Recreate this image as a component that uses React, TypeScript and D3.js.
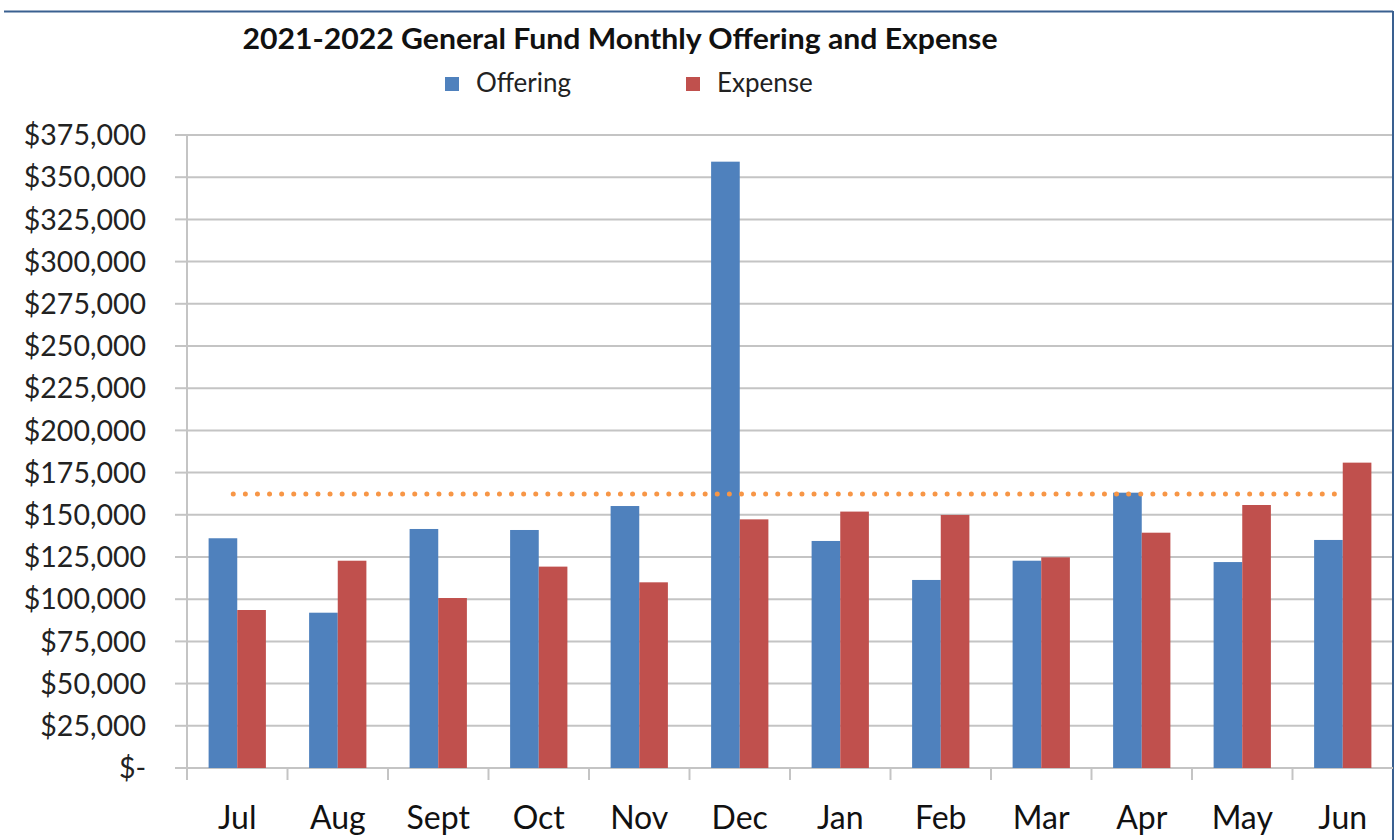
import * as d3 from "d3";
import { useEffect, useRef } from "react";

const months = ["Jul", "Aug", "Sept", "Oct", "Nov", "Dec", "Jan", "Feb", "Mar", "Apr", "May", "Jun"];
const offering = [136100, 92000, 141600, 141000, 155200, 359200, 134500, 111400, 122800, 163100, 122000, 135100];
const expense = [93600, 122800, 100700, 119300, 110000, 147300, 151900, 149900, 124800, 139400, 155800, 180900];
const budgetLine = 162300;
const seriesNames = ["Offering", "Expense"];
const seriesColors = ["#4f81bd", "#c0504d"];
const yTicks = d3.range(0, 375001, 25000);

const W = 1395, H = 840;

const App = () => {
  const ref: any = useRef();

  useEffect(() => {
    document.body.style.margin = "0";
    const svg = d3.select(ref.current);
    svg.selectAll("*").remove();

    const left = 187, right = 1393, top = 135, bottom = 768;

    const x0 = d3.scaleBand().domain(months).range([left, right]).paddingInner(0.43).paddingOuter(0.215);
    const x1 = d3.scaleBand().domain(seriesNames).range([0, x0.bandwidth()]);
    const y = d3.scaleLinear().domain([0, 375000]).range([bottom, top]);

    svg.append("rect").attr("width", W).attr("height", H).attr("fill", "#fff");

    // frame
    svg.append("line").attr("x1", 4).attr("x2", right).attr("y1", 11.5).attr("y2", 11.5)
      .attr("stroke", "#3a6090").attr("stroke-width", 2);
    svg.append("line").attr("x1", right).attr("x2", right).attr("y1", 11).attr("y2", H)
      .attr("stroke", "#3a6090").attr("stroke-width", 2);

    // gridlines
    svg.append("g").selectAll("line").data(yTicks.filter(d => d > 0)).join("line")
      .attr("x1", left).attr("x2", right - 1)
      .attr("y1", d => y(d)).attr("y2", d => y(d))
      .attr("stroke", "#c4c4c4").attr("stroke-width", 2);

    // y axis
    svg.append("line").attr("x1", left).attr("x2", left).attr("y1", top).attr("y2", bottom)
      .attr("stroke", "#c4c4c4").attr("stroke-width", 2);
    svg.append("g").selectAll("line").data(yTicks).join("line")
      .attr("x1", left - 12).attr("x2", left)
      .attr("y1", d => y(d)).attr("y2", d => y(d))
      .attr("stroke", "#c4c4c4").attr("stroke-width", 2);
    const fmt = d3.format(",");
    svg.append("g").selectAll("text").data(yTicks).join("text")
      .attr("x", 146).attr("y", d => y(d)).attr("dy", "0.36em")
      .attr("text-anchor", "end")
      .attr("font-family", "Lato, sans-serif").attr("font-size", 28.5).attr("fill", "#222")
      .text(d => (d === 0 ? "$-" : "$" + fmt(d)));

    // x axis
    svg.append("line").attr("x1", left - 12).attr("x2", right).attr("y1", bottom).attr("y2", bottom)
      .attr("stroke", "#c4c4c4").attr("stroke-width", 2);
    const step = x0.step();
    svg.append("g").selectAll("line").data(d3.range(months.length)).join("line")
      .attr("x1", i => left + i * step).attr("x2", i => left + i * step)
      .attr("y1", bottom).attr("y2", bottom + 12)
      .attr("stroke", "#c4c4c4").attr("stroke-width", 2);
    svg.append("g").selectAll("text").data(months).join("text")
      .attr("x", d => (x0(d) as number) + x0.bandwidth() / 2).attr("y", 829)
      .attr("text-anchor", "middle")
      .attr("font-family", "Lato, sans-serif").attr("font-size", 32).attr("fill", "#111")
      .text(d => d);

    // bars
    const rows = months.map((m, i) => ({ m, vals: [offering[i], expense[i]] }));
    const g = svg.append("g").selectAll("g").data(rows).join("g")
      .attr("transform", d => `translate(${x0(d.m)},0)`);
    g.selectAll("rect").data(d => d.vals.map((v, k) => ({ v, k }))).join("rect")
      .attr("x", d => x1(seriesNames[d.k]) as number)
      .attr("width", x1.bandwidth())
      .attr("y", d => y(d.v))
      .attr("height", d => bottom - y(d.v))
      .attr("fill", d => seriesColors[d.k]);

    // budget line (dotted)
    svg.append("line")
      .attr("x1", (x0(months[0]) as number) + x0.bandwidth() / 2 - 4)
      .attr("x2", (x0(months[months.length - 1]) as number) + x0.bandwidth() / 2 - 4)
      .attr("y1", y(budgetLine)).attr("y2", y(budgetLine))
      .attr("stroke", "#f79646").attr("stroke-width", 5)
      .attr("stroke-linecap", "round").attr("stroke-dasharray", "0 12.1");

    // title
    svg.append("text").attr("x", 620).attr("y", 49).attr("text-anchor", "middle")
      .attr("font-family", "Lato, sans-serif").attr("font-weight", "bold").attr("font-size", 28)
      .attr("textLength", 755).attr("lengthAdjust", "spacingAndGlyphs")
      .attr("fill", "#111").text("2021-2022 General Fund Monthly Offering and Expense");

    // legend
    const legX = [445, 686];
    seriesNames.forEach((s, i) => {
      svg.append("rect").attr("x", legX[i]).attr("y", 77).attr("width", 14).attr("height", 14)
        .attr("fill", seriesColors[i]);
      svg.append("text").attr("x", legX[i] + 31).attr("y", 92)
        .attr("font-family", "Lato, sans-serif").attr("font-size", 26).attr("fill", "#222")
        .text(s);
    });
  }, []);

  return <svg ref={ref} width={W} height={H} style={{ display: "block" }} />;
};

export default App;
